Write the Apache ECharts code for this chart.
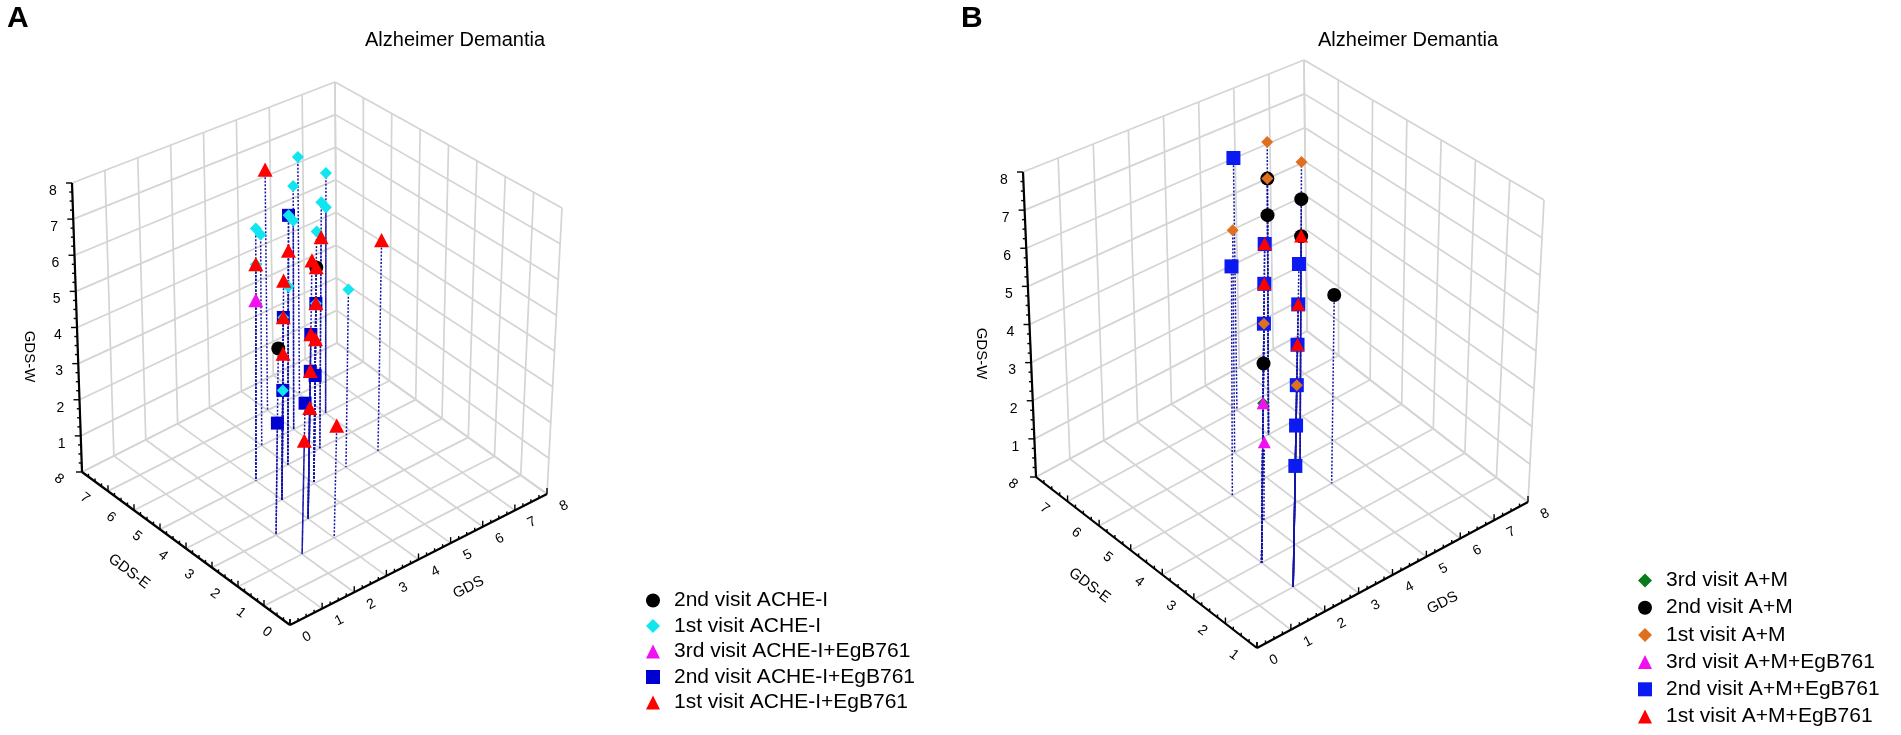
<!DOCTYPE html>
<html><head><meta charset="utf-8">
<script src="https://cdn.jsdelivr.net/npm/echarts@6/dist/echarts.min.js"></script>
<style>html,body{margin:0;padding:0;background:#fff;} #c{width:1901px;height:735px;}</style>
</head><body><div id="c"></div>
<script>
// ================= DATA =================
const gdsTicks   = [0,1,2,3,4,5,6,7,8];      // GDS axis
const gdswTicks  = [0,1,2,3,4,5,6,7,8];      // GDS-W (vertical) axis
const gdswLabels = [1,2,3,4,5,6,7,8];
const gdseTicksA = [0,1,2,3,4,5,6,7,8];      // GDS-E axis, panel A
const gdseTicksB = [1,2,3,4,5,6,7,8];        // GDS-E axis, panel B

const titleText = 'Alzheimer Demantia';
const namesA = ['2nd visit ACHE-I','1st visit ACHE-I','3rd visit ACHE-I+EgB761','2nd visit ACHE-I+EgB761','1st visit ACHE-I+EgB761'];
const namesB = ['3rd visit A+M','2nd visit A+M','1st visit A+M','3rd visit A+M+EgB761','2nd visit A+M+EgB761','1st visit A+M+EgB761'];

// points: [GDS, GDS-E, GDS-W]
const acheI_2nd    = [[4,4,6],[2,3,5]];
const acheI_1st    = [[6,7,7],[6,6,7],[5,6,7],[4,5,7],[5,6,6],[5,5,7],[6,6,6],[3,5,7],[4,6,6],[4,4,7],[3,5,6],[4,5,5],[5,4,5],[4,4,5],[3,4,5],[3,4,3]];
const acheIEgb_3rd = [[3,5,5]];
const acheIEgb_2nd = [[4,5,7],[4,4,5],[3,4,5],[3,3,5],[3,3,4],[4,4,3],[3,4,3],[2,2,4],[2,3,3]];
const acheIEgb_1st = [[5,7,7],[5,5,6],[4,5,6],[3,5,6],[3,3,7],[4,4,6],[3,4,6],[4,4,5],[3,4,5],[3,3,5],[4,4,4],[3,4,4],[3,3,4],[3,3,3],[3,2,3],[2,2,3],[6,4,6]];

const am_3rd    = [[2,3,4]];
const am_2nd    = [[5,6,7],[5,6,6],[5,5,7],[5,5,6],[2,3,5],[5,4,5]];
const am_1st    = [[5,6,8],[5,6,7],[4,6,6],[5,5,8],[2,3,6],[2,2,5]];
const amEgb_3rd = [[2,3,4],[3,4,2]];
const amEgb_2nd = [[5,7,7],[3,5,6],[2,3,8],[2,3,7],[2,3,6],[2,2,8],[2,2,7],[2,2,6],[2,2,5],[2,2,4],[2,2,3]];
const amEgb_1st = [[2,3,8],[2,3,7],[2,2,7],[2,2,6],[5,5,6]];

// ================= LAYOUT (3D box frame, screen units of hidden axes) =================
const panelA = {xr:[0,8], yr:[0,8], zr:[0,8], yTicks:gdseTicksA,
  F0:[290,625], R0:[547,494], L0:[82,472], B0:[337,343],
  F8:[299,309], R8:[562,208], L8:[72,183], B8:[335,82]};
const panelB = {xr:[0,8], yr:[1,8], zr:[0,8], yTicks:gdseTicksB,
  F0:[1257,648], R0:[1528,502], L0:[1036,477], B0:[1307,331],
  F8:[1263,312], R8:[1544,200], L8:[1023,172], B8:[1304,60]};

const FONT = 'Arial, "Liberation Sans", sans-serif';

function proj(P, x, y, z){
  const a=(x-P.xr[0])/(P.xr[1]-P.xr[0]), b=(y-P.yr[0])/(P.yr[1]-P.yr[0]), c=(z-P.zr[0])/(P.zr[1]-P.zr[0]);
  const w=[[P.F0,(1-a)*(1-b)*(1-c)],[P.R0,a*(1-b)*(1-c)],[P.L0,(1-a)*b*(1-c)],[P.B0,a*b*(1-c)],
           [P.F8,(1-a)*(1-b)*c],[P.R8,a*(1-b)*c],[P.L8,(1-a)*b*c],[P.B8,a*b*c]];
  let u=0,v=0; w.forEach(function(q){u+=q[0][0]*q[1]; v+=q[0][1]*q[1];});
  return [u,v];
}

function gridSegs(P){
  const s=[], x0=P.xr[0],x1=P.xr[1],y0=P.yr[0],y1=P.yr[1],z0=P.zr[0],z1=P.zr[1];
  gdsTicks.forEach(function(x){ s.push([x,y0,z0,x,y1,z0]); s.push([x,y1,z0,x,y1,z1]); });
  P.yTicks.forEach(function(y){ s.push([x0,y,z0,x1,y,z0]); s.push([x1,y,z0,x1,y,z1]); });
  gdswTicks.forEach(function(z){ s.push([x0,y1,z,x1,y1,z]); s.push([x1,y0,z,x1,y1,z]); });
  return s;
}

function gridSeries(P){
  return {type:'custom', coordinateSystem:'cartesian2d', z:1, silent:true,
    data:gridSegs(P),
    renderItem:function(params,api){
      const p1=api.coord(proj(P,api.value(0),api.value(1),api.value(2)));
      const p2=api.coord(proj(P,api.value(3),api.value(4),api.value(5)));
      return {type:'line', shape:{x1:p1[0],y1:p1[1],x2:p2[0],y2:p2[1]}, style:{stroke:'#d4d4d4', lineWidth:1.7}};
    }};
}

function txt(x,y,t,rot,size){
  return {type:'text', x:x, y:y, rotation:rot||0,
    style:{text:String(t), fill:'#000', font:(size||14)+'px '+FONT, align:'center', verticalAlign:'middle'}};
}

function axisSeries(P){
  return {type:'custom', coordinateSystem:'cartesian2d', z:2, silent:true, data:[[0,0]],
    renderItem:function(params,api){
      const ch=[], x0=P.xr[0],x1=P.xr[1],y0=P.yr[0],y1=P.yr[1],z0=P.zr[0],z1=P.zr[1];
      const C=function(x,y,z){return api.coord(proj(P,x,y,z));};
      const ln=function(a,b,w){ch.push({type:'line',shape:{x1:a[0],y1:a[1],x2:b[0],y2:b[1]},style:{stroke:'#000',lineWidth:w||2.2}});};
      // GDS-W axis (vertical, left corner)
      ln(C(x0,y1,z0),C(x0,y1,z1));
      for(let k=0;k<=(z1-z0)*4;k++){const z=z0+k/4, p=C(x0,y1,z), L=(k%4===0)?6:3; ln(p,[p[0]-L,p[1]],1.4);}
      gdswLabels.forEach(function(z){const p=C(x0,y1,z); ch.push(txt(p[0]-19,p[1]+8,z,0));});
      // GDS-E axis
      ln(C(x0,y0,z0),C(x0,y1,z0));
      for(let k=0;k<=(y1-y0)*4;k++){const y=y0+k/4, p=C(x0,y,z0), L=(k%4===0)?6:3; ln(p,[p[0],p[1]-L],1.4);}
      P.yTicks.forEach(function(y){const p=C(x0,y,z0); ch.push(txt(p[0]-23,p[1]+7,y,-0.65));});
      // GDS axis
      ln(C(x0,y0,z0),C(x1,y0,z0));
      for(let k=0;k<=(x1-x0)*4;k++){const x=x0+k/4, p=C(x,y0,z0), L=(k%4===0)?6:3; ln(p,[p[0],p[1]-L],1.4);}
      gdsTicks.forEach(function(x){const p=C(x,y0,z0); ch.push(txt(p[0]+17,p[1]+12,x,0.47));});
      // axis titles
      let m=C(x0,y1,(z0+z1)/2); ch.push(txt(m[0]-48,m[1]+29,'GDS-W',-Math.PI/2,15));
      m=C(x0,(y0+y1)/2,z0); ch.push(txt(m[0]-57,m[1]+23,'GDS-E',-0.65,15));
      m=C((x0+x1)/2,y0,z0); ch.push(txt(m[0]+50,m[1]+28,'GDS',0.47,15));
      return {type:'group', children:ch};
    }};
}

function dropSeries(P, pts){
  return {type:'custom', coordinateSystem:'cartesian2d', z:3, silent:true, data:pts,
    renderItem:function(params,api){
      const x=api.value(0), y=api.value(1), z=api.value(2);
      const p1=api.coord(proj(P,x,y,z)), p2=api.coord(proj(P,x,y,P.zr[0]));
      return {type:'line', shape:{x1:p1[0],y1:p1[1],x2:p2[0],y2:p2[1]}, style:{stroke:'#1414a8', lineWidth:1.5, lineDash:[2,1.6]}};
    }};
}

function shape(kind,c,size,color){
  const h=size/2;
  if(kind==='circle') return {type:'circle',shape:{cx:c[0],cy:c[1],r:h},style:{fill:color}};
  if(kind==='rect') return {type:'rect',shape:{x:c[0]-h,y:c[1]-h,width:size,height:size},style:{fill:color}};
  if(kind==='diamond') return {type:'polygon',shape:{points:[[c[0],c[1]-h],[c[0]+h,c[1]],[c[0],c[1]+h],[c[0]-h,c[1]]]},style:{fill:color}};
  return {type:'polygon',shape:{points:[[c[0],c[1]-h],[c[0]+h,c[1]+h*0.9],[c[0]-h,c[1]+h*0.9]]},style:{fill:color}};
}

function markerSeries(P, def, zz){
  return {type:'custom', name:def.name, coordinateSystem:'cartesian2d', z:zz, data:def.data,
    itemStyle:{color:def.color},
    renderItem:function(params,api){
      const c=api.coord(proj(P,api.value(0),api.value(1),api.value(2)));
      return shape(def.kind,c,def.size,def.color);
    }};
}

// draw order (later on top)
const defsA = [
  {name:namesA[3], data:acheIEgb_2nd, kind:'rect',     color:'#0000d0', size:13},
  {name:namesA[1], data:acheI_1st,    kind:'diamond',  color:'#10e6f0', size:12},
  {name:namesA[0], data:acheI_2nd,    kind:'circle',   color:'#000000', size:14},
  {name:namesA[2], data:acheIEgb_3rd, kind:'triangle', color:'#f010f0', size:15},
  {name:namesA[4], data:acheIEgb_1st, kind:'triangle', color:'#ff0000', size:15}
];
const defsB = [
  {name:namesB[0], data:am_3rd,    kind:'diamond',  color:'#0a7a1a', size:12},
  {name:namesB[4], data:amEgb_2nd, kind:'rect',     color:'#0a1af0', size:14},
  {name:namesB[1], data:am_2nd,    kind:'circle',   color:'#000000', size:14},
  {name:namesB[2], data:am_1st,    kind:'diamond',  color:'#e07020', size:12},
  {name:namesB[3], data:amEgb_3rd, kind:'triangle', color:'#f010f0', size:13},
  {name:namesB[5], data:amEgb_1st, kind:'triangle', color:'#ff0000', size:14}
];
const iconOf = {circle:'circle', rect:'rect', diamond:'diamond', triangle:'triangle'};
function legendData(names, defs){
  return names.map(function(n){const d=defs.find(function(q){return q.name===n;}); return {name:n, icon:iconOf[d.kind]};});
}

const allA = [].concat(acheI_2nd, acheI_1st, acheIEgb_3rd, acheIEgb_2nd, acheIEgb_1st);
const allB = [].concat(am_3rd, am_2nd, am_1st, amEgb_3rd, amEgb_2nd, amEgb_1st);

const series = [gridSeries(panelA), gridSeries(panelB), axisSeries(panelA), axisSeries(panelB),
  dropSeries(panelA, allA), dropSeries(panelB, allB)];
defsA.forEach(function(d,i){series.push(markerSeries(panelA,d,10+i));});
defsB.forEach(function(d,i){series.push(markerSeries(panelB,d,10+i));});

const legendText = {fontSize:21, fontFamily:FONT, color:'#000', lineHeight:20, padding:[0,0,0,9]};
const option = {
  animation:false,
  backgroundColor:'#fff',
  grid:{left:0, right:0, top:0, bottom:0},
  xAxis:{type:'value', min:0, max:1901, show:false},
  yAxis:{type:'value', min:0, max:735, inverse:true, show:false},
  title:[
    {text:'A', left:7, top:4, padding:0, textStyle:{fontSize:30, fontWeight:'bold', color:'#000', fontFamily:FONT}},
    {text:'B', left:961, top:4, padding:0, textStyle:{fontSize:30, fontWeight:'bold', color:'#000', fontFamily:FONT}},
    {text:titleText, left:365, top:30, padding:0, textStyle:{fontSize:20, fontWeight:'normal', color:'#000', fontFamily:FONT}},
    {text:titleText, left:1318, top:30, padding:0, textStyle:{fontSize:20, fontWeight:'normal', color:'#000', fontFamily:FONT}}
  ],
  legend:[
    {orient:'vertical', left:646, top:590, height:200, itemWidth:14, itemHeight:14, itemGap:4.5, padding:0,
     selectedMode:false, data:legendData(namesA, defsA), textStyle:legendText},
    {orient:'vertical', left:1638, top:570, height:220, itemWidth:14, itemHeight:14, itemGap:6.2, padding:0,
     selectedMode:false, data:legendData(namesB, defsB), textStyle:legendText}
  ],
  series:series
};
const chart = echarts.init(document.getElementById('c'), null, {renderer:'canvas'});
chart.setOption(option);
</script></body></html>
